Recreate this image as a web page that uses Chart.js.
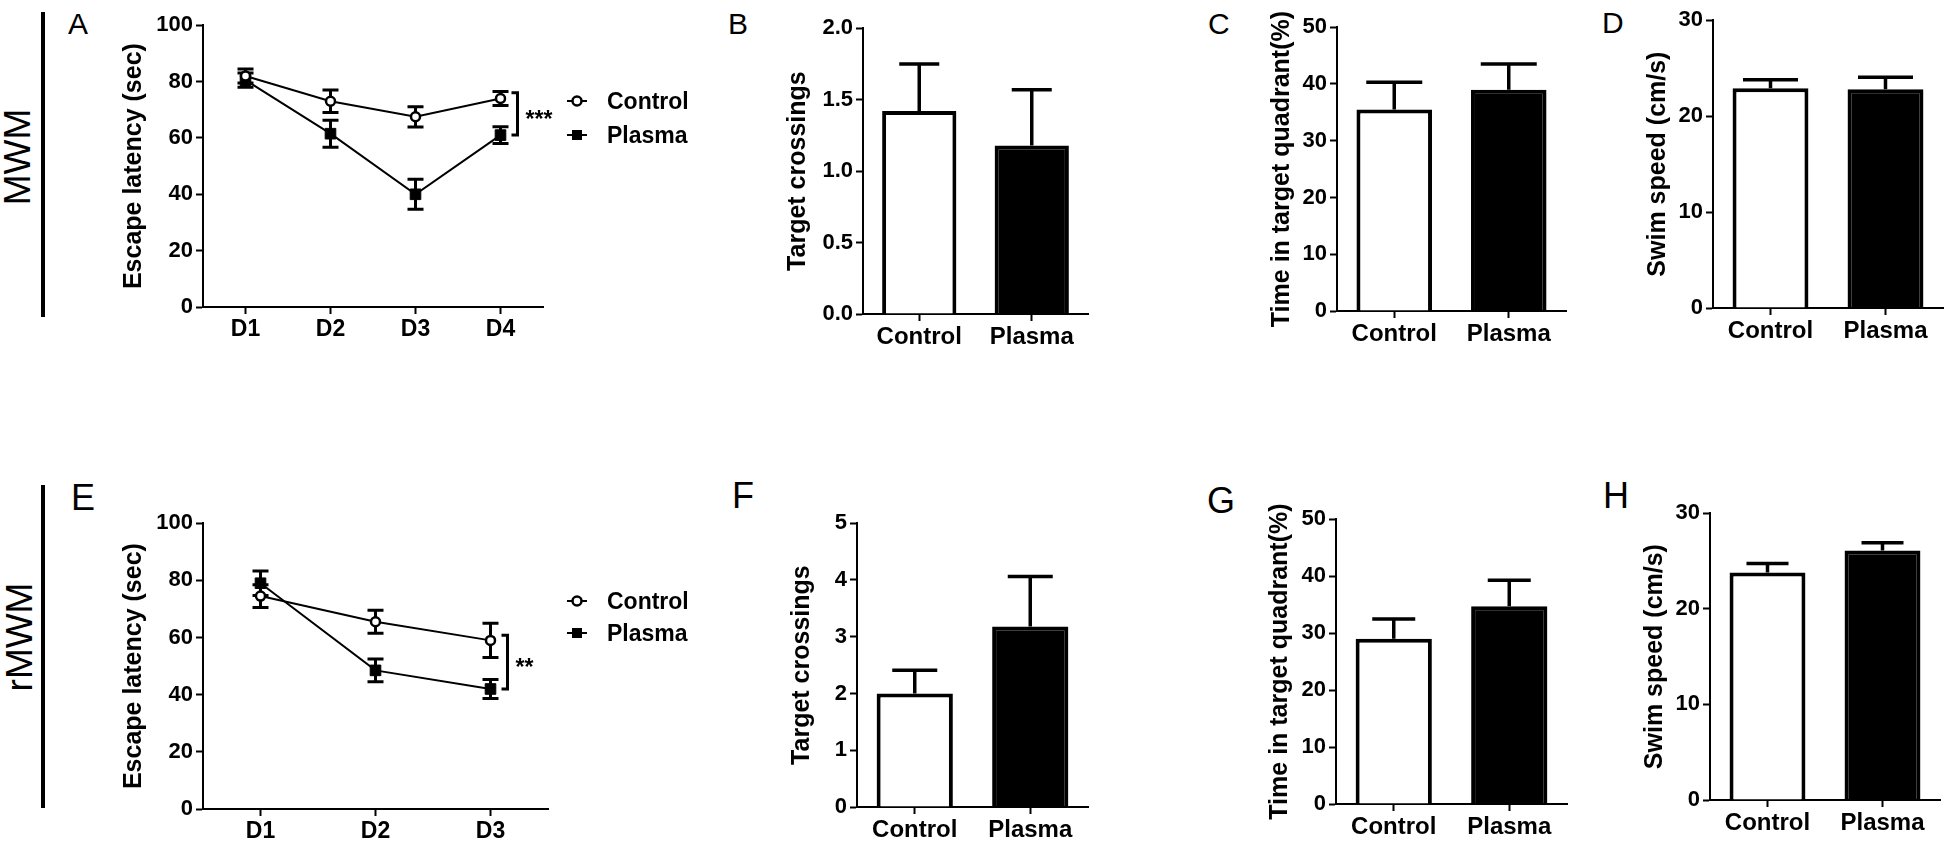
<!DOCTYPE html>
<html>
<head>
<meta charset="utf-8">
<script src="https://cdn.jsdelivr.net/npm/chart.js@4.4.0/dist/chart.umd.min.js"></script>
<style>
  html, body { margin: 0; padding: 0; background: #fff; overflow: hidden; }
  body { width: 1946px; height: 842px; position: relative; font-family: "Liberation Sans", Arial, sans-serif; color: #000; }
  canvas { position: absolute; }
  .letter { position: absolute; line-height: 1; }
  .top-row { font-size: 30px; }
  .bottom-row { font-size: 36px; }
  .group { position: absolute; font-size: 37px; line-height: 1; white-space: nowrap;
           transform: translate(-50%, -50%) rotate(-90deg); }
  .rule { position: absolute; width: 4px; background: #000; }
</style>
</head>
<body>

<div class="rule" style="left:41px; top:12px; height:305px"></div>
<div class="rule" style="left:41px; top:485px; height:323px"></div>
<div class="group" style="left:17px; top:157px">MWM</div>
<div class="group" style="left:19px; top:637px">rMWM</div>

<div class="letter top-row" style="left:68px; top:9px">A</div>
<div class="letter top-row" style="left:728px; top:9px">B</div>
<div class="letter top-row" style="left:1208px; top:9px">C</div>
<div class="letter top-row" style="left:1602px; top:8px">D</div>
<div class="letter bottom-row" style="left:71px; top:480px">E</div>
<div class="letter bottom-row" style="left:732px; top:478px">F</div>
<div class="letter bottom-row" style="left:1207px; top:483px">G</div>
<div class="letter bottom-row" style="left:1603px; top:478px">H</div>

<script>
// ---- data (mean and SEM) ----
const days4 = ['D1', 'D2', 'D3', 'D4'];
const days3 = ['D1', 'D2', 'D3'];
const groups = ['Control', 'Plasma'];

const mwmControl = [82, 73, 67.5, 74];
const mwmControlSem = [2.5, 4, 3.6, 2.5];
const mwmPlasma = [80.5, 61.5, 40, 61];
const mwmPlasmaSem = [2.5, 4.8, 5.3, 3];

const rmwmControl = [74.5, 65.5, 59];
const rmwmControlSem = [4, 4, 6];
const rmwmPlasma = [79, 48.5, 42];
const rmwmPlasmaSem = [4.3, 4, 3.3];

const crossingsMwm = [1.42, 1.18];
const crossingsMwmSem = [0.33, 0.39];
const quadrantMwm = [35.5, 39];
const quadrantMwmSem = [4.8, 4.5];
const speedMwm = [22.9, 22.8];
const speedMwmSem = [0.9, 1.25];

const crossingsRmwm = [2.0, 3.18];
const crossingsRmwmSem = [0.41, 0.88];
const quadrantRmwm = [29.0, 34.7];
const quadrantRmwmSem = [3.5, 4.6];
const speedRmwm = [23.8, 26.1];
const speedRmwmSem = [0.95, 0.8];

// tick values
const latencyTicks = [0, 20, 40, 60, 80, 100];
const crossingsMwmTicks = [0, 0.5, 1.0, 1.5, 2.0];
const crossingsRmwmTicks = [0, 1, 2, 3, 4, 5];
const quadrantTicks = [0, 10, 20, 30, 40, 50];
const speedTicks = [0, 10, 20, 30];

// significance brackets (from/to in data units)
const mwmBracket = [76, 61];
const rmwmBracket = [60.8, 42];

// ---- layout ----
const FONT = "'Liberation Sans', Arial, sans-serif";
const Y_W = 110;   // reserved width for y axis (ticks + title)
const X_H = 40;    // reserved height for x axis
const PAD_T = 16;
const TITLE_SIZE = 25;

Chart.defaults.font.family = FONT;
Chart.defaults.color = '#000';
Chart.defaults.animation = false;
Chart.defaults.plugins.legend.display = false;
Chart.defaults.plugins.tooltip.enabled = false;

// draws SEM error bars from each dataset's `errors` list
function drawErrors(chart, opts) {
  const ctx = chart.ctx;
  const y = chart.scales.y;
  chart.data.datasets.forEach((ds, i) => {
    const meta = chart.getDatasetMeta(i);
    meta.data.forEach((el, j) => {
      const v = ds.data[j];
      const e = ds.errors[j];
      const x = el.x;
      const top = y.getPixelForValue(v + e);
      const bottom = y.getPixelForValue(opts.mode === 'both' ? v - e : v);
      ctx.save();
      ctx.strokeStyle = '#000';
      ctx.lineWidth = opts.width;
      ctx.beginPath();
      ctx.moveTo(x, top);
      ctx.lineTo(x, bottom);
      ctx.moveTo(x - opts.cap / 2, top);
      ctx.lineTo(x + opts.cap / 2, top);
      if (opts.mode === 'both') {
        ctx.moveTo(x - opts.cap / 2, bottom);
        ctx.lineTo(x + opts.cap / 2, bottom);
      }
      ctx.stroke();
      ctx.restore();
    });
  });
}

const errorBars = {
  id: 'errorBars',
  beforeDatasetsDraw(chart, args, opts) {
    if (opts.mode === 'both') drawErrors(chart, opts);
  },
  afterDatasetsDraw(chart, args, opts) {
    if (opts.mode === 'up') drawErrors(chart, opts);
  }
};

// bracket with stars, plus the small legend next to the line charts
const sigLegend = {
  id: 'sigLegend',
  afterDraw(chart, args, o) {
    if (!o.bracket) return;
    const ctx = chart.ctx;
    const xs = chart.scales.x, ys = chart.scales.y;
    const last = chart.data.labels.length - 1;
    const bx = xs.getPixelForValue(last) + o.dx;
    const y1 = ys.getPixelForValue(o.bracket[0]);
    const y2 = ys.getPixelForValue(o.bracket[1]);
    ctx.save();
    ctx.strokeStyle = '#000';
    ctx.lineWidth = 3;
    ctx.beginPath();
    ctx.moveTo(bx - 6, y1);
    ctx.lineTo(bx, y1);
    ctx.lineTo(bx, y2);
    ctx.lineTo(bx - 6, y2);
    ctx.stroke();
    ctx.fillStyle = '#000';
    ctx.font = 'bold 23px ' + FONT;
    ctx.textAlign = 'left';
    ctx.textBaseline = 'alphabetic';
    ctx.fillText(o.stars, bx + 8, (y1 + y2) / 2 + 13);

    // legend
    chart.data.datasets.forEach((ds, i) => {
      const ly = o.rows[i];
      const mx = o.markerX;
      ctx.lineWidth = 2;
      ctx.beginPath();
      ctx.moveTo(mx - 10, ly);
      ctx.lineTo(mx + 10, ly);
      ctx.stroke();
      if (ds.pointStyle === 'rect') {
        ctx.fillRect(mx - 5, ly - 5, 10, 10);
      } else {
        ctx.beginPath();
        ctx.arc(mx, ly, 4.5, 0, Math.PI * 2);
        ctx.fillStyle = '#fff';
        ctx.fill();
        ctx.lineWidth = 2.5;
        ctx.stroke();
        ctx.fillStyle = '#000';
      }
      ctx.font = 'bold 23px ' + FONT;
      ctx.fillText(ds.label, o.textX, ly + 8);
    });
    ctx.restore();
  }
};

function makeCanvas(area, padRight) {
  const c = document.createElement('canvas');
  const left = area.L - Y_W;
  const top = area.T - PAD_T;
  c.width = area.R - left + padRight;
  c.height = area.B - area.T + PAD_T + X_H;
  c.style.left = left + 'px';
  c.style.top = top + 'px';
  c.style.width = c.width + 'px';
  c.style.height = c.height + 'px';
  document.body.appendChild(c);
  return { c, left, top };
}

function scales(area, left, ticks, fmt, title, xFont) {
  return {
    x: {
      offset: true,
      grid: { drawOnChartArea: false, offset: false, color: '#000', tickLength: 7, tickWidth: 2 },
      border: { color: '#000', width: 2 },
      ticks: { font: { size: xFont, weight: 'bold' }, padding: 2, maxRotation: 0, autoSkip: false },
      afterFit: s => { s.height = X_H; }
    },
    y: {
      min: ticks[0],
      max: ticks[ticks.length - 1],
      afterBuildTicks: s => { s.ticks = ticks.map(v => ({ value: v })); },
      grid: { drawOnChartArea: false, color: '#000', tickLength: 7, tickWidth: 2 },
      border: { color: '#000', width: 2 },
      ticks: { font: { size: 22, weight: 'bold' }, padding: 3, callback: fmt },
      title: {
        display: true, text: title,
        font: { size: TITLE_SIZE, weight: 'bold' },
        padding: { top: area.titleX - left - TITLE_SIZE * 0.6, bottom: 0 }
      },
      afterFit: s => { s.width = Y_W; }
    }
  };
}

function lineChart(area, labels, ctrl, ctrlSem, plas, plasSem, bracket, stars, legendRows) {
  const padRight = 170;
  const { c, left, top } = makeCanvas(area, padRight);
  new Chart(c, {
    type: 'line',
    data: {
      labels: labels,
      datasets: [
        {
          label: 'Control', data: ctrl, errors: ctrlSem,
          borderColor: '#000', borderWidth: 2, tension: 0,
          pointStyle: 'circle', pointRadius: 4.5,
          pointBackgroundColor: '#fff', pointBorderColor: '#000', pointBorderWidth: 2.5
        },
        {
          label: 'Plasma', data: plas, errors: plasSem,
          borderColor: '#000', borderWidth: 2, tension: 0,
          pointStyle: 'rect', pointRadius: 7.5,
          pointBackgroundColor: '#000', pointBorderColor: '#000', pointBorderWidth: 1
        }
      ]
    },
    options: {
      responsive: false,
      devicePixelRatio: 1,
      layout: { padding: { top: PAD_T, right: padRight, bottom: 0, left: 0 } },
      scales: scales(area, left, latencyTicks, v => String(v), 'Escape latency (sec)', 23),
      plugins: {
        errorBars: { mode: 'both', cap: 16, width: 3 },
        sigLegend: {
          bracket: bracket, stars: stars, dx: 17,
          markerX: 577 - left, textX: 607 - left,
          rows: legendRows.map(r => r - top)
        }
      }
    },
    plugins: [errorBars, sigLegend]
  });
}

function barChart(area, values, sem, ticks, fmt, title, cap) {
  const padRight = 3;
  const { c, left } = makeCanvas(area, padRight);
  new Chart(c, {
    type: 'bar',
    data: {
      labels: groups,
      datasets: [{
        data: values, errors: sem,
        backgroundColor: ['#fff', '#000'], borderColor: '#000', borderWidth: 4,
        categoryPercentage: 1, barPercentage: 0.66
      }]
    },
    options: {
      responsive: false,
      devicePixelRatio: 1,
      layout: { padding: { top: PAD_T, right: padRight, bottom: 0, left: 0 } },
      scales: scales(area, left, ticks, fmt, title, 24),
      plugins: { errorBars: { mode: 'up', cap: cap, width: 3.5 } }
    },
    plugins: [errorBars]
  });
}

// chart areas in page pixels: L, T, R, B and the centre x of the y-axis title
const areaA = { L: 203, T: 25, R: 543, B: 307, titleX: 134 };
const areaB = { L: 863, T: 28, R: 1088, B: 314, titleX: 798 };
const areaC = { L: 1337, T: 27, R: 1566, B: 311, titleX: 1282 };
const areaD = { L: 1713, T: 20, R: 1943, B: 308, titleX: 1658 };
const areaE = { L: 203, T: 523, R: 548, B: 809, titleX: 134 };
const areaF = { L: 857, T: 523, R: 1088, B: 807, titleX: 802 };
const areaG = { L: 1336, T: 519, R: 1567, B: 804, titleX: 1280 };
const areaH = { L: 1710, T: 513, R: 1940, B: 800, titleX: 1655 };

const plain = v => String(v);
const oneDecimal = v => v.toFixed(1);

lineChart(areaA, days4, mwmControl, mwmControlSem, mwmPlasma, mwmPlasmaSem, mwmBracket, '***', [101, 135]);
barChart(areaB, crossingsMwm, crossingsMwmSem, crossingsMwmTicks, oneDecimal, 'Target crossings', 40);
barChart(areaC, quadrantMwm, quadrantMwmSem, quadrantTicks, plain, 'Time in target quadrant(%)', 56);
barChart(areaD, speedMwm, speedMwmSem, speedTicks, plain, 'Swim speed (cm/s)', 55);

lineChart(areaE, days3, rmwmControl, rmwmControlSem, rmwmPlasma, rmwmPlasmaSem, rmwmBracket, '**', [601, 633]);
barChart(areaF, crossingsRmwm, crossingsRmwmSem, crossingsRmwmTicks, plain, 'Target crossings', 45);
barChart(areaG, quadrantRmwm, quadrantRmwmSem, quadrantTicks, plain, 'Time in target quadrant(%)', 43);
barChart(areaH, speedRmwm, speedRmwmSem, speedTicks, plain, 'Swim speed (cm/s)', 42);
</script>
</body>
</html>
